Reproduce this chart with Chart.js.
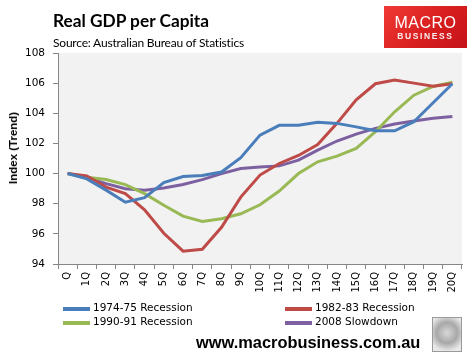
<!DOCTYPE html>
<html>
<head>
<meta charset="utf-8">
<script src="https://cdn.jsdelivr.net/npm/chart.js@4"></script>
<style>
  html, body { margin: 0; padding: 0; background: #fff; }
  #wrap { position: relative; width: 474px; height: 358px; overflow: hidden; background: #fff; }
  #c { position: absolute; left: 0; top: 0; }
  .abs { position: absolute; white-space: nowrap; }
  #title { left: 53px; top: 10px; font: bold 17.3px Lato, sans-serif; color: #000; }
  #sub { left: 53px; top: 35px; font: 12px Lato, sans-serif; letter-spacing: -0.2px; color: #000; }
  #logo { left: 384px; top: 6px; width: 83px; height: 42px;
          background: linear-gradient(135deg, #f03a35 0%, #d81e1e 55%, #c4121a 100%); }
  #logo .m { position: absolute; left: 0; width: 83px; top: 8px; text-align: center;
             font: 16px "Liberation Sans", Arial, sans-serif; color: #fff; letter-spacing: 0.5px; }
  #logo .b { position: absolute; left: 0; width: 83px; top: 25px; text-align: center;
             font: bold 8.5px "Liberation Sans", Arial, sans-serif; color: #fff; letter-spacing: 1.6px; opacity: 0.92; }
  #ytitle { left: 13px; top: 148px; transform: translate(-50%, -50%) rotate(-90deg);
            font: bold 11.5px "Liberation Sans", Arial, sans-serif; color: #000; }
  .leg { position: absolute; font: 10.5px "DejaVu Sans", sans-serif; color: #000; white-space: nowrap; }
  .leg .ln { position: absolute; left: 0; top: 5px; width: 27px; height: 4px; }
  .leg .tx { position: absolute; left: 30px; top: -1px; }
  #url { left: 196px; top: 333px; font: bold 16.4px "Liberation Sans", Arial, sans-serif; color: #000; }
  #wolf { left: 432px; top: 317px; width: 28px; height: 33px; border: 1px solid #9a9a9a;
          background: radial-gradient(circle at 50% 45%, #d8d8d8 0%, #a8a8a8 45%, #e8e8e8 80%); }
</style>
</head>
<body>
<div id="wrap">
  <canvas id="c" width="474" height="358"></canvas>
  <div class="abs" id="title">Real GDP per Capita</div>
  <div class="abs" id="sub">Source: Australian Bureau of Statistics</div>
  <div class="abs" id="logo"><div class="m">MACRO</div><div class="b">BUSINESS</div></div>
  <div class="abs" id="ytitle">Index (Trend)</div>
  <div id="legend"></div>
  <div class="abs" id="url">www.macrobusiness.com.au</div>
  <div class="abs" id="wolf"></div>
</div>
<script>
const categories = ["Q","1Q","2Q","3Q","4Q","5Q","6Q","7Q","8Q","9Q","10Q","11Q","12Q","13Q","14Q","15Q","16Q","17Q","18Q","19Q","20Q"];
const seriesNames = ["1974-75 Recession","1982-83 Recession","1990-91 Recession","2008 Slowdown"];
const rec1974 = [100,99.65,98.9,98.1,98.4,99.4,99.8,99.87,100.1,101.05,102.55,103.2,103.2,103.4,103.33,103.1,102.84,102.84,103.44,104.7,105.96];
const rec1982 = [100,99.85,99.1,98.67,97.6,96.04,94.85,94.98,96.44,98.44,99.9,100.67,101.2,101.93,103.33,104.9,105.96,106.2,106.0,105.8,105.96];
const rec1990 = [100,99.75,99.6,99.27,98.67,97.9,97.18,96.82,97.0,97.33,97.93,98.84,100.0,100.78,101.16,101.67,102.78,104.1,105.2,105.78,106.07];
const slow2008 = [100,99.73,99.33,99.0,98.89,99.04,99.27,99.6,100.0,100.33,100.44,100.51,100.89,101.56,102.16,102.62,103.0,103.29,103.49,103.67,103.78];
const yTicks = [94,96,98,100,102,104,106,108];

const colors = ["#4a7ebb","#be4b48","#98b954","#7d60a0"];
const seriesData = [rec1974, rec1982, rec1990, slow2008];

// HTML legend (2 columns)
const legPos = [[63,302],[285,302],[63,316],[285,316]];
const legend = document.getElementById('legend');
seriesNames.forEach((n,i)=>{
  const d = document.createElement('div');
  d.className = 'leg';
  d.style.left = legPos[i][0]+'px';
  d.style.top = legPos[i][1]+'px';
  d.innerHTML = '<div class="ln" style="background:'+colors[i]+'"></div><div class="tx">'+n+'</div>';
  legend.appendChild(d);
});

const plotBg = {
  id: 'plotBg',
  beforeDraw(chart) {
    const {ctx, chartArea: a} = chart;
    ctx.save();
    ctx.fillStyle = '#f2f2f2';
    ctx.fillRect(a.left, a.top, a.right - a.left, a.bottom - a.top);
    ctx.restore();
  }
};

new Chart(document.getElementById('c'), {
  type: 'line',
  data: {
    labels: categories,
    datasets: seriesNames.map((n,i)=>({
      label: n,
      data: seriesData[i],
      borderColor: colors[i],
      backgroundColor: colors[i],
      borderWidth: 3,
      pointRadius: 0,
      tension: 0,
      fill: false
    }))
  },
  options: {
    responsive: false,
    animation: false,
    devicePixelRatio: 1,
    layout: { padding: { top: 53, right: 12, left: 0, bottom: 0 } },
    plugins: { legend: { display: false }, tooltip: { enabled: false }, title: { display: false } },
    scales: {
      x: {
        offset: true,
        grid: { display: true, drawOnChartArea: false, drawTicks: true, tickLength: 5, color: '#868686', offset: true },
        border: { color: '#868686', width: 1 },
        ticks: { autoSkip: false, minRotation: 90, maxRotation: 90, padding: 3, color: '#000',
                 font: { family: 'DejaVu Sans', size: 10 } },
        afterFit(s) { s.height = 94; }
      },
      y: {
        min: 94, max: 108,
        afterBuildTicks(s) { s.ticks = yTicks.map(v => ({ value: v })); },
        grid: { display: true, drawOnChartArea: false, drawTicks: true, tickLength: 5, color: '#868686' },
        border: { color: '#868686', width: 1 },
        ticks: { padding: 8, color: '#000', font: { family: 'DejaVu Sans', size: 10.5 } },
        afterFit(s) { s.width = 58; }
      }
    }
  },
  plugins: [plotBg]
});
</script>
</body>
</html>
